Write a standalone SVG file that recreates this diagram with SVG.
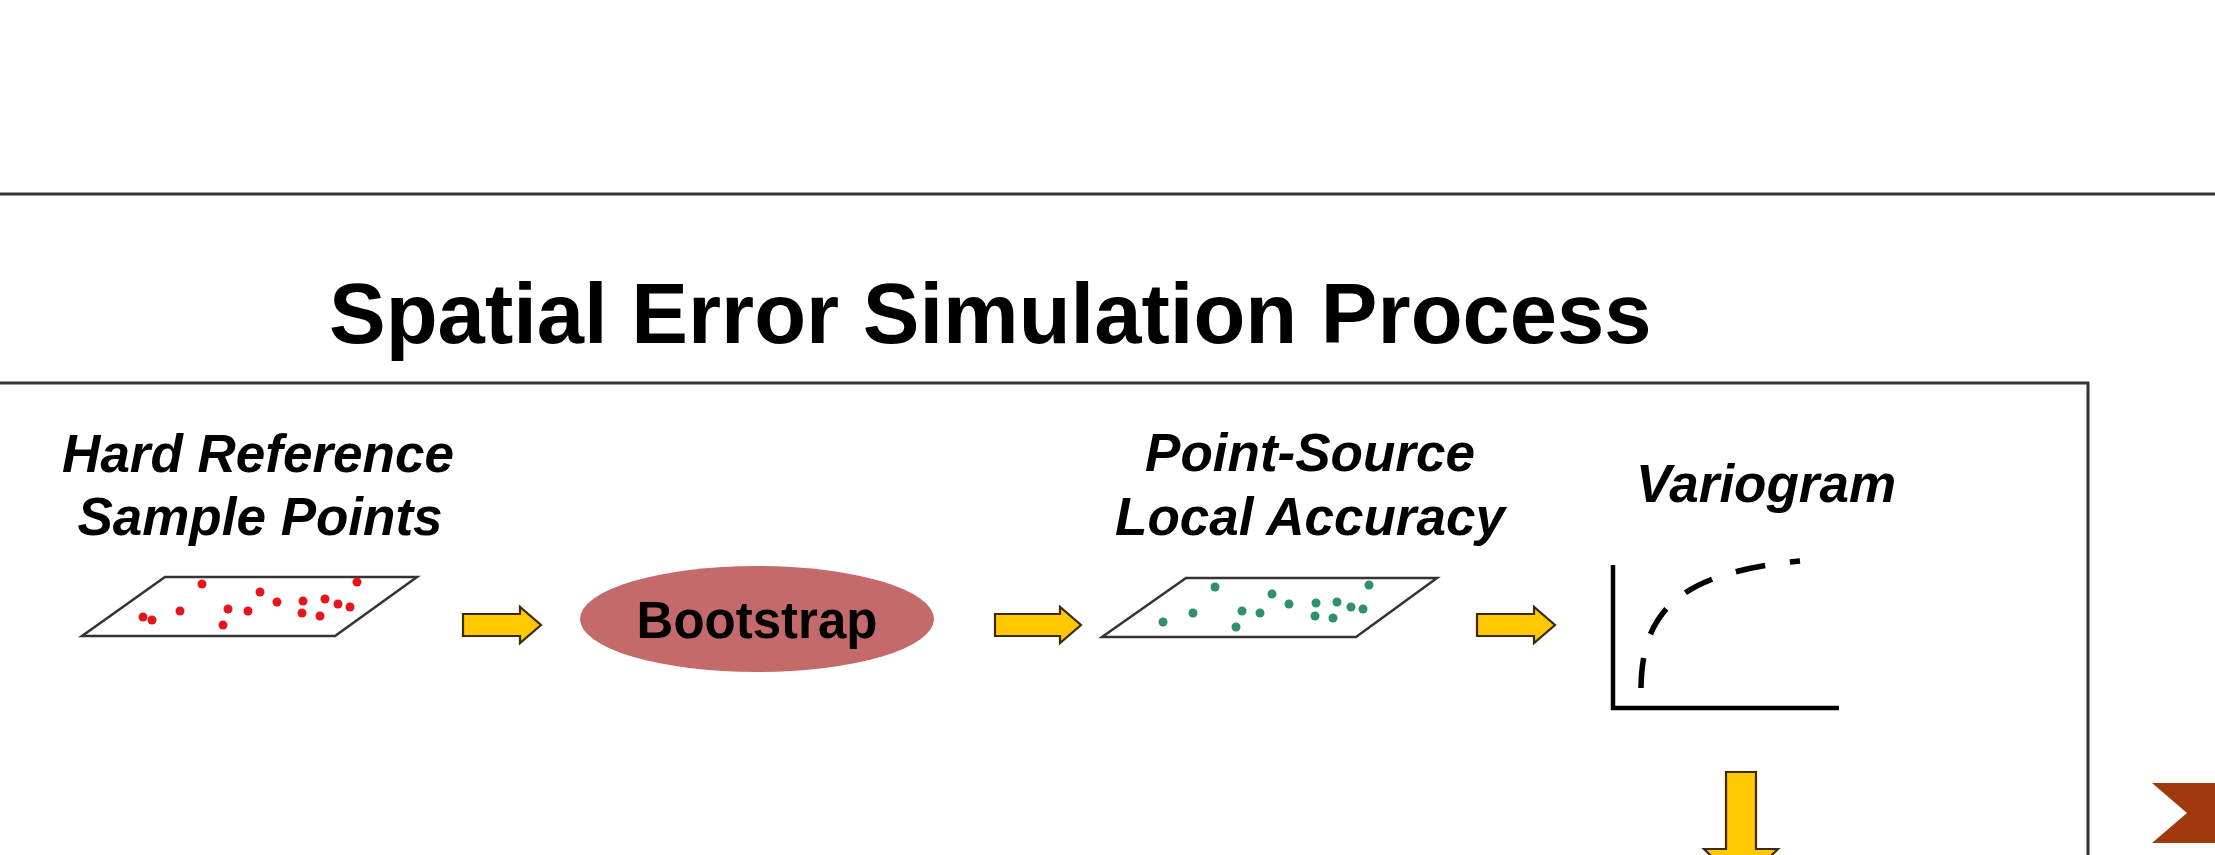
<svg xmlns="http://www.w3.org/2000/svg" width="2215" height="855" viewBox="0 0 2215 855">
<style>
.lbl{font-family:"Liberation Sans",Arial,sans-serif;font-weight:bold;font-style:italic;font-size:53px;fill:#000;text-anchor:middle}
.title{font-family:"Liberation Sans",Arial,sans-serif;font-weight:bold;font-size:85px;fill:#000}
.plane{fill:#fff;stroke:#333;stroke-width:2.5;stroke-linejoin:miter}
.red{fill:#e8141c}
.grn{fill:#2f8f6e}
.arr{fill:#ffc800;stroke:#3b2b05;stroke-width:2.2;stroke-linejoin:miter}
.rule{stroke:#333;stroke-width:3}
</style>
<defs>
<path id="harrow" d="M0,-11 H57 V-18 L78,0 L57,18 V11 H0 Z"/>
</defs>
<rect width="2215" height="855" fill="#fff"/>
<line class="rule" x1="0" y1="194" x2="2215" y2="194"/>
<text class="title" x="329" y="343">Spatial Error Simulation Process</text>
<rect x="-10" y="383" width="2098" height="520" fill="none" stroke="#333" stroke-width="3"/>
<polygon points="2152,783 2215,783 2215,843 2152,843 2187,813" fill="#a03a0c"/>

<g id="hard-reference">
<text class="lbl" x="258" y="472">Hard Reference</text>
<text class="lbl" x="260" y="535">Sample Points</text>
<polygon class="plane" points="165,577 417,577 335,636 82,636"/>
<g class="red">
<circle cx="202" cy="584" r="4.5"/><circle cx="357" cy="582" r="4.5"/><circle cx="260" cy="592" r="4.5"/>
<circle cx="277" cy="602" r="4.5"/><circle cx="303" cy="601" r="4.5"/><circle cx="325" cy="599" r="4.5"/>
<circle cx="338" cy="604" r="4.5"/><circle cx="350" cy="607" r="4.5"/><circle cx="180" cy="611" r="4.5"/>
<circle cx="228" cy="609" r="4.5"/><circle cx="248" cy="611" r="4.5"/><circle cx="302" cy="613" r="4.5"/>
<circle cx="320" cy="616" r="4.5"/><circle cx="143" cy="617" r="4.5"/><circle cx="152" cy="620" r="4.5"/>
<circle cx="223" cy="625" r="4.5"/>
</g>
</g>

<g id="bootstrap">
<ellipse cx="757" cy="619" rx="177" ry="53" fill="#c46a6b"/>
<text x="757" y="638" font-family="Liberation Sans,Arial,sans-serif" font-weight="bold" font-size="51" text-anchor="middle" fill="#000">Bootstrap</text>
</g>

<g id="point-source">
<text class="lbl" x="1310" y="471">Point-Source</text>
<text class="lbl" x="1310" y="535">Local Accuracy</text>
<polygon class="plane" points="1186,578 1437,578 1356,637 1102,637"/>
<g class="grn">
<circle cx="1215" cy="587" r="4.5"/><circle cx="1369" cy="585" r="4.5"/><circle cx="1272" cy="594" r="4.5"/>
<circle cx="1289" cy="604" r="4.5"/><circle cx="1316" cy="603" r="4.5"/><circle cx="1337" cy="602" r="4.5"/>
<circle cx="1351" cy="607" r="4.5"/><circle cx="1363" cy="609" r="4.5"/><circle cx="1193" cy="613" r="4.5"/>
<circle cx="1242" cy="611" r="4.5"/><circle cx="1260" cy="613" r="4.5"/><circle cx="1315" cy="616" r="4.5"/>
<circle cx="1333" cy="618" r="4.5"/><circle cx="1163" cy="622" r="4.5"/><circle cx="1236" cy="627" r="4.5"/>
</g>
</g>

<g id="variogram">
<text class="lbl" x="1766" y="502">Variogram</text>
<path d="M1613,565 V708 H1839" fill="none" stroke="#000" stroke-width="4.5"/>
<path d="M1641,688 C1642,610 1680,573 1800,561" fill="none" stroke="#000" stroke-width="5.5" stroke-dasharray="30 25"/>
</g>

<g id="connectors">
<use href="#harrow" class="arr" transform="translate(463,625)"/>
<path class="arr" d="M995,614 H1060 V607 L1081,625 L1060,643 V636 H995 Z"/>
<use href="#harrow" class="arr" transform="translate(1477,625)"/>
<path class="arr" d="M1726,772 H1756 V849 H1778 L1741,885 L1704,849 H1726 Z"/>
</g>
</svg>
